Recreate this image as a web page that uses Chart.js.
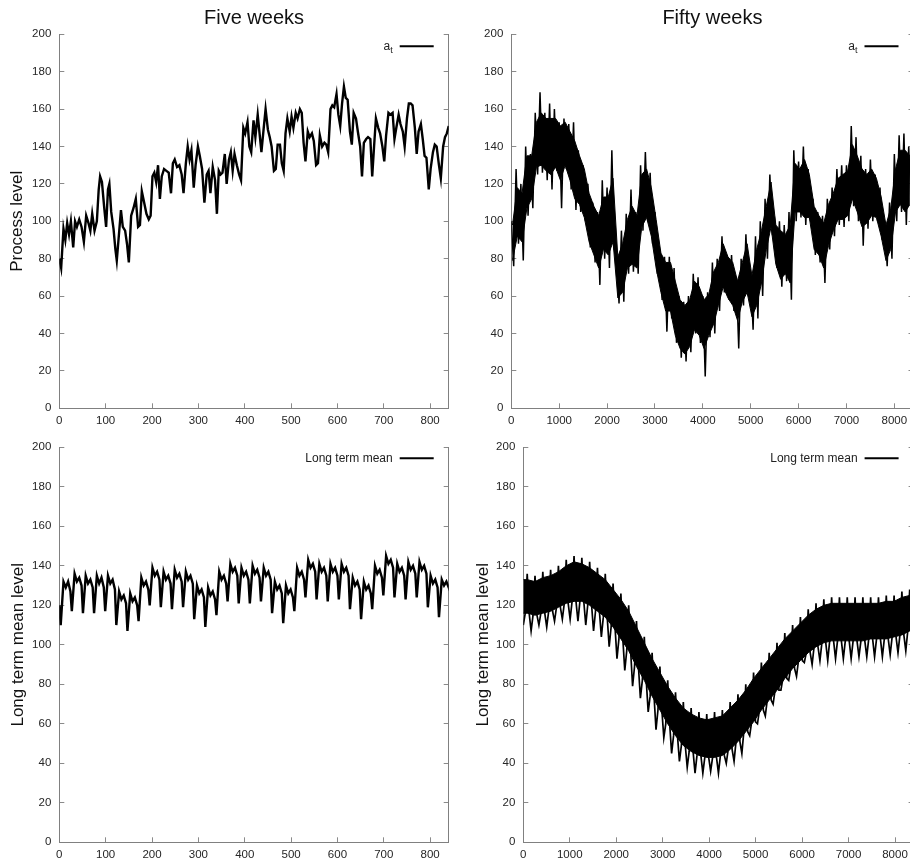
<!DOCTYPE html>
<html>
<head>
<meta charset="utf-8">
<script src="https://cdn.jsdelivr.net/npm/chart.js@4.4.1/dist/chart.umd.min.js"></script>
<style>
html,body{margin:0;padding:0;background:#fff;overflow:hidden;width:910px;height:865px;position:relative}
canvas{position:absolute}
</style>
</head>
<body>
<canvas id="tl" width="455" height="430" style="left:0;top:0"></canvas>
<canvas id="tr" width="465" height="430" style="left:455px;top:0"></canvas>
<canvas id="bl" width="455" height="435" style="left:0;top:430px"></canvas>
<canvas id="br" width="465" height="435" style="left:455px;top:430px"></canvas>
<script>
// ---------- DATA ----------
const panelTitles = ["Five weeks", "Fifty weeks"];
const yTitles = ["Process level", "Long term mean level"];
const yTicks = {min: 0, max: 200, step: 20};
const xTicksFive = [0, 100, 200, 300, 400, 500, 600, 700, 800];
const xTicksFifty = [0, 1000, 2000, 3000, 4000, 5000, 6000, 7000, 8000];

// Top-left: process level a_t over five weeks (hours)
const tlHours = [0,4,9,13,17,21,25,30,34,38,43,48,53,58,63,67,71,76,81,85,88,92,97,101,105,108,112,117,121,124,129,133,137,142,146,150,155,160,165,170,174,178,183,188,193,197,201,205,209,213,217,221,226,231,236,241,245,249,254,259,264,268,273,277,281,285,290,294,299,303,308,313,318,322,326,331,336,340,344,348,352,357,361,366,370,374,378,383,388,392,397,401,406,410,414,419,423,428,432,436,441,445,450,454,458,463,467,471,476,480,484,488,492,497,501,505,510,514,519,523,527,531,536,540,545,549,554,558,562,567,572,576,580,585,589,593,598,602,606,610,614,618,622,627,631,635,640,644,649,653,657,662,666,671,675,679,683,688,692,697,701,705,710,714,719,723,727,732,736,741,745,750,754,758,762,767,771,775,780,784,788,792,797,801,806,810,814,819,823,828,832,836,840];
const tlLevel = [80,75,96,90,99,93,100,86,100,97,101,97,89,103,99,95,104,95,100,117,124,121,107,97,117,120,105,96,85,79,94,106,97,95,88,78,103,107,112,97,98,116,110,104,101,103,124,126,121,130,112,124,128,127,126,115,131,133,129,130,125,115,131,140,133,138,118,130,140,135,128,110,125,127,115,129,122,104,127,125,126,136,120,133,137,127,136,130,125,122,150,147,153,140,137,154,145,157,147,137,150,160,149,145,140,127,128,141,141,131,127,147,155,148,156,150,158,155,160,158,142,132,148,145,147,143,130,131,146,140,142,141,137,160,162,161,168,157,151,163,172,166,165,148,141,158,155,148,140,124,142,144,145,144,124,140,155,150,147,140,132,146,158,157,158,144,150,157,152,148,140,155,163,163,162,150,136,148,152,144,135,134,117,128,137,141,140,130,123,140,145,147,151];

// Top-right: process level over fifty weeks, per 100-hour slot:
// extreme high / extreme low (spikes) and the dense body's upper / lower edge
const trSlotHours = 100;
const trHigh = [100,128,120,140,136,158,169,158,163,160,153,155,152,153,138,130,120,110,105,122,118,138,82,95,104,117,105,130,137,126,105,85,81,81,75,60,57,60,72,70,60,62,78,80,92,82,82,70,80,93,72,92,100,112,125,100,100,98,105,138,132,140,128,112,105,103,112,118,128,130,130,151,145,135,128,133,125,118,100,110,136,146,147,140];
const trLow  = [76,88,79,103,107,125,126,122,117,127,107,128,117,106,105,100,86,78,66,80,75,85,56,57,72,73,72,95,100,88,72,58,41,48,35,27,25,30,40,35,17,38,40,52,62,58,52,32,55,60,42,48,60,80,95,75,65,68,58,100,102,98,100,82,78,67,85,92,98,97,100,108,100,87,96,100,100,90,76,80,100,105,98,108];
const trBodyHigh = [98,118,115,135,135,153,158,155,155,155,151,153,148,143,135,128,115,108,103,113,113,123,81,88,101,108,103,125,128,118,101,83,78,78,68,58,55,58,68,65,58,61,73,78,88,81,78,68,78,88,71,85,95,108,121,98,95,93,98,131,128,133,125,108,103,99,109,115,123,125,127,141,135,128,125,128,123,113,98,107,128,138,138,135];
const trBodyLow  = [79,92,89,107,112,129,130,127,125,129,122,130,122,112,109,102,89,82,75,85,82,89,59,62,75,77,75,97,102,92,75,62,52,52,39,32,29,33,42,39,32,39,45,55,65,59,55,47,57,62,49,55,67,85,97,77,69,72,67,105,105,102,102,85,82,75,87,95,101,101,103,112,105,97,99,103,102,92,79,85,105,109,105,109];

// Bottom-left: long term mean over five weeks, per day: [trough, peak, mid, late, evening]
const blFirstTrough = 3;
const blDayHours = [0, 6, 11, 16, 21];
const blStart = 120, blEnd = 130;
const blDays = [
 [110,132,129,132,127],[117,136,132,134,130],[116,135,131,133,129],[116,135,131,134,129],[117,135,131,133,128],
 [110,127,123,125,121],[107,126,122,124,120],[112,134,130,132,128],[120,139,135,137,133],[119,137,133,135,131],
 [118,138,134,136,132],[119,137,133,135,131],[113,130,126,128,124],[109,129,125,127,123],[115,137,133,135,131],
 [122,141,137,139,135],[121,139,135,137,133],[121,140,136,138,134],[122,139,135,137,133],[116,132,128,130,126],
 [111,130,126,128,124],[117,139,135,137,133],[124,143,139,141,137],[123,141,137,139,135],[122,141,137,139,135],
 [123,141,137,139,135],[118,134,130,132,128],[113,132,128,130,126],[118,140,136,138,134],[125,145,141,143,139],
 [124,141,137,139,135],[123,142,138,140,136],[124,142,138,140,136],[119,135,131,133,129],[114,133,130,132,129]
];

// Bottom-right: long term mean over fifty weeks, per week:
// peak tooth, top of the dense body, bottom of the dense body, weekly spike low
const brWeekHigh  = [136,135,137,138,140,143,145,144,142,139,136,131,126,120,112,104,96,89,82,76,71,68,66,65,66,67,71,75,80,86,91,96,101,106,110,114,118,121,123,124,124,124,124,124,124,124,125,125,127,128];
const brBodyTop   = [133,132,134,135,137,140,142,141,139,136,133,128,123,117,109,101,93,86,79,73,68,65,63,62,63,64,68,72,77,83,88,93,98,103,107,111,115,118,120,121,121,121,121,121,121,121,122,122,124,125];
const brWeekLow   = [116,115,116,117,119,121,122,122,120,117,114,109,103,97,89,82,74,67,60,54,49,46,44,43,43,44,47,51,56,61,67,72,77,83,88,92,96,99,101,102,102,102,102,102,103,103,103,104,105,107];
const brWeekSpike = [110,107,110,109,112,113,113,112,110,107,104,99,93,87,79,73,66,57,53,45,41,38,35,35,36,35,40,41,45,54,60,64,70,77,82,84,91,90,92,92,93,93,93,94,94,94,94,95,96,97];
const brWeekHours = 168;
const brWeekPattern = [[0,'spike'],[42,'low'],[84,'high'],[126,'low']];

// ---------- build datasets from the arrays ----------
const tlPts = tlHours.map((h, i) => ({x: h, y: tlLevel[i]}));

const trPts = [], trUp = [], trDn = [];
trHigh.forEach((v, i) => {
  trPts.push({x: i * trSlotHours, y: v});
  trPts.push({x: i * trSlotHours + trSlotHours / 2, y: trLow[i]});
  trUp.push({x: i * trSlotHours + trSlotHours / 4, y: trBodyHigh[i]});
  trDn.push({x: i * trSlotHours + trSlotHours / 4, y: trBodyLow[i]});
});

const blPts = [{x: 0, y: blStart}];
blDays.forEach((row, d) => row.forEach((v, j) => blPts.push({x: blFirstTrough + 24 * d + blDayHours[j], y: v})));
blPts.push({x: 840, y: blEnd});

const brPts = [], brUp = [{x: 0, y: brBodyTop[0]}], brDn = [{x: 0, y: brWeekLow[0]}];
brWeekHigh.forEach((hv, k) => {
  brWeekPattern.forEach(([off, kind]) => {
    const v = kind === 'high' ? hv : kind === 'low' ? brWeekLow[k] : brWeekSpike[k];
    brPts.push({x: k * brWeekHours + off, y: v});
  });
  brUp.push({x: k * brWeekHours + 84, y: brBodyTop[k]});
  brDn.push({x: k * brWeekHours + 84, y: brWeekLow[k]});
});
brPts.push({x: 8400, y: brWeekLow[49]});
brUp.push({x: 8400, y: brBodyTop[49]});
brDn.push({x: 8400, y: brWeekLow[49]});

// ---------- drawing ----------
const FONT = '"Liberation Sans", Arial, Helvetica, sans-serif';
const panelText = {
  id: 'panelText',
  afterDraw(chart, args, o) {
    const ctx = chart.ctx, a = chart.chartArea;
    ctx.save();
    if (o.title) {
      ctx.font = '20px ' + FONT; ctx.fillStyle = '#111'; ctx.textAlign = 'center'; ctx.textBaseline = 'alphabetic';
      ctx.fillText(o.title, (a.left + a.right) / 2, o.titleY);
    }
    const y = a.top + o.legendDy;
    ctx.strokeStyle = '#000'; ctx.lineWidth = 2;
    ctx.beginPath(); ctx.moveTo(a.right - 49, y); ctx.lineTo(a.right - 15, y); ctx.stroke();
    ctx.fillStyle = '#222'; ctx.textAlign = 'right'; ctx.textBaseline = 'middle';
    let xr = a.right - 56;
    if (o.sub) {
      ctx.font = '9px ' + FONT;
      const tw = ctx.measureText(o.sub).width;
      ctx.fillText(o.sub, xr, y + 4);
      xr -= tw;
    }
    ctx.font = '12px ' + FONT;
    ctx.fillText(o.label, xr, y);
    ctx.restore();
  }
};

function lineDs(points, lw) {
  return {data: points, borderColor: '#000', borderWidth: lw, pointRadius: 0, tension: 0, fill: false, xAxisID: 'x', yAxisID: 'y'};
}

function panel(id, p) {
  const cv = document.getElementById(id);
  const W = cv.width, H = cv.height, ca = p.area;
  const gridOpt = {drawOnChartArea: false, drawTicks: true, tickLength: -5, color: '#8a8a8a', lineWidth: 1};
  const borderOpt = {display: true, color: '#808080', width: 1};
  const tickFont = {family: FONT, size: 11.5};
  const datasets = [];
  if (p.band) {
    datasets.push({data: p.band[0], borderColor: '#000', borderWidth: 1, backgroundColor: '#000', pointRadius: 0, tension: 0, fill: '+1', xAxisID: 'x', yAxisID: 'y'});
    datasets.push({data: p.band[1], borderColor: '#000', borderWidth: 1, pointRadius: 0, tension: 0, fill: false, xAxisID: 'x', yAxisID: 'y'});
  }
  datasets.push(lineDs(p.points, p.lw));
  new Chart(cv, {
    type: 'line',
    data: {datasets},
    options: {
      responsive: false, animation: false, events: [], devicePixelRatio: 1,
      layout: {padding: {left: 0, top: ca.top, right: W - ca.right, bottom: 0}, autoPadding: false},
      plugins: {legend: {display: false}, tooltip: {enabled: false}, title: {display: false},
        filler: {propagate: false},
        panelText: {title: p.title, titleY: 23.5, label: p.legend, sub: p.sub, legendDy: p.legendDy}},
      scales: {
        x: {type: 'linear', position: 'bottom', min: 0, max: p.xMax,
            afterBuildTicks: s => { s.ticks = p.xTicks.map(v => ({value: v})); },
            afterFit: s => { s.height = H - ca.bottom; s.paddingLeft = 0; s.paddingRight = 0; },
            ticks: {autoSkip: false, maxRotation: 0, padding: 11, font: tickFont, color: '#262626', callback: v => String(v)},
            grid: gridOpt, border: borderOpt},
        y: {type: 'linear', position: 'left', min: yTicks.min, max: yTicks.max,
            afterFit: s => { s.width = ca.left; s.paddingTop = 0; s.paddingBottom = 0; },
            ticks: {stepSize: yTicks.step, includeBounds: false, padding: 13, font: tickFont, color: '#262626', callback: v => String(v)},
            title: p.yTitle ? {display: true, text: p.yTitle, font: {family: FONT, size: 17}, color: '#111', padding: {top: p.yTitlePad, bottom: 0}} : {display: false},
            grid: gridOpt, border: borderOpt},
        y2: {type: 'linear', position: 'right', min: yTicks.min, max: yTicks.max,
            afterFit: s => { s.width = 0; s.paddingTop = 0; s.paddingBottom = 0; },
            ticks: {stepSize: yTicks.step, display: false},
            grid: gridOpt, border: borderOpt}
      }
    },
    plugins: [panelText]
  });
}

panel('tl', {area: {left: 59.3, top: 34.3, right: 448.7, bottom: 408.3}, points: tlPts, lw: 2.4, xMax: 840, xTicks: xTicksFive,
  title: panelTitles[0], yTitle: yTitles[0], yTitlePad: 7.1, legend: 'a', sub: 't', legendDy: 12});
panel('tr', {area: {left: 56.3, top: 34.3, right: 458.5, bottom: 408.3}, points: trPts, band: [trUp, trDn], lw: 1.5, xMax: 8400, xTicks: xTicksFifty,
  title: panelTitles[1], yTitle: null, legend: 'a', sub: 't', legendDy: 12});
panel('bl', {area: {left: 59.3, top: 17.3, right: 448.7, bottom: 412.3}, points: blPts, lw: 2.4, xMax: 840, xTicks: xTicksFive,
  title: null, yTitle: yTitles[1], yTitlePad: 7.7, legend: 'Long term mean', legendDy: 11});
panel('br', {area: {left: 68.3, top: 17.3, right: 458.6, bottom: 412.3}, points: brPts, band: [brUp, brDn], lw: 1.7, xMax: 8400, xTicks: xTicksFifty,
  title: null, yTitle: yTitles[1], yTitlePad: 17.7, legend: 'Long term mean', legendDy: 11});
</script>
</body>
</html>
